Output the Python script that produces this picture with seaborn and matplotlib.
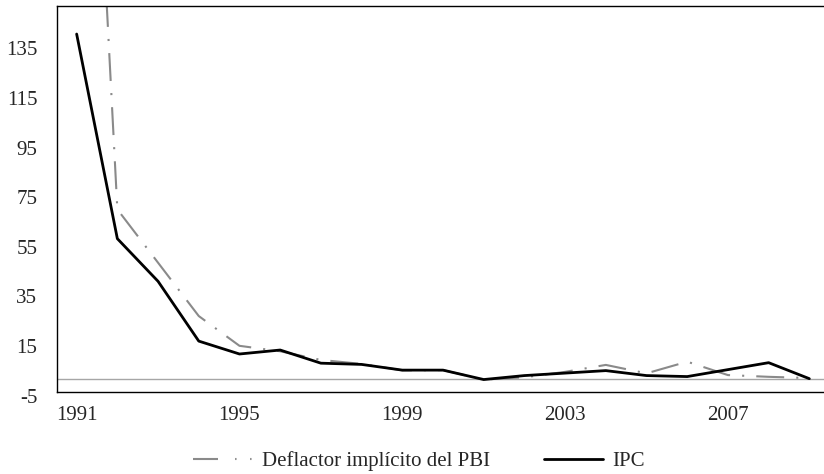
import matplotlib
matplotlib.use("Agg")
import matplotlib.pyplot as plt
import matplotlib.transforms as mtransforms
from matplotlib.lines import Line2D
import seaborn as sns
import pandas as pd

years = list(range(1991, 2010))
ipc = [139.2, 56.7, 39.5, 15.4, 10.2, 11.8, 6.5, 6.0, 3.7, 3.7, -0.1, 1.5, 2.5, 3.5, 1.5, 1.1, 3.9, 6.7, 0.25]
deflactor = [385.0, 68.5, 47.0, 25.5, 13.5, 11.3, 7.8, 6.2, 3.6, 3.7, -0.1, 0.8, 3.0, 5.8, 2.4, 7.1, 1.7, 1.0, 0.5]
xticks = [1991, 1995, 1999, 2003, 2007]
yticks = [-5, 15, 35, 55, 75, 95, 115, 135]
label_def = "Deflactor implícito del PBI"
label_ipc = "IPC"

df = pd.DataFrame({"year": years, "ipc": ipc, "def": deflactor})

sns.set_style("white")
plt.rcParams["font.family"] = ["Liberation Serif", "DejaVu Serif"]
FS = 15

fig = plt.figure(figsize=(8.24, 4.74), dpi=100)
ax = fig.add_axes([56.7 / 824, 1 - 391.7 / 474, 1 - 56.7 / 824, (391.7 - 6) / 474])

gray = "#8a8a8a"
def_style = (0, (13.4, 5.8, 1.0, 5.8))
ax.axhline(0, color="#a6a6a6", lw=1.0, zorder=1)
sns.lineplot(data=df, x="year", y="def", ax=ax, color=gray, lw=1.5, linestyle=def_style, zorder=2)
sns.lineplot(data=df, x="year", y="ipc", ax=ax, color="black", lw=2.0, zorder=3)

ax.set_xlim(1990.51, 2009.36)
ax.set_ylim(-5, 150.5)
ax.set_xticks(xticks)
ax.set_yticks(yticks)
ax.set_xticklabels([str(v) for v in xticks], fontsize=FS)
ax.set_yticklabels([str(v) for v in yticks], fontsize=FS)
ax.set_xlabel("")
ax.set_ylabel("")
ax.tick_params(axis="both", length=0)
ax.tick_params(axis="y", pad=14)
ax.tick_params(axis="x", pad=10)
off = mtransforms.ScaledTranslation(0, -4 / 100, fig.dpi_scale_trans)
for lab in ax.get_yticklabels():
    lab.set_transform(lab.get_transform() + off)
for s in ["left", "top", "bottom"]:
    ax.spines[s].set_visible(True)
    ax.spines[s].set_color("black")
    ax.spines[s].set_linewidth(1.0)
ax.spines["right"].set_visible(False)
ax.grid(False)

h_def = Line2D([], [], color=gray, lw=1.5, linestyle=(0, (12, 8.2, 0.7, 6.5, 0.7, 12)))
h_ipc = Line2D([], [], color="black", lw=2.0)
fig.legend([h_def, h_ipc], [label_def, label_ipc], loc="center",
           bbox_to_anchor=(419 / 824, 1 - 461 / 474), ncol=2, frameon=False,
           fontsize=FS, handlelength=2.85, handletextpad=0.45, columnspacing=2.6)

fig.savefig("out.png", dpi=100)
